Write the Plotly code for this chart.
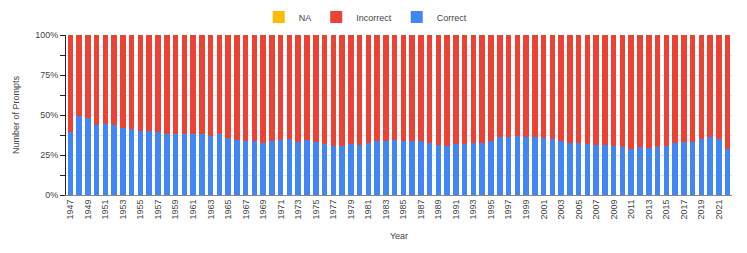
import plotly.graph_objects as go

years = [str(y) for y in range(1947, 2023)]
correct = [
    39.4, 49.2, 48.3, 43.8, 44.6, 43.5, 42.1, 41.3, 40.0, 40.0,
    39.6, 38.3, 38.3, 38.3, 38.3, 38.1, 36.7, 38.1, 35.4, 34.4,
    33.5, 33.7, 32.7, 33.7, 34.4, 35.0, 33.3, 34.4, 33.3, 31.9,
    30.8, 30.8, 31.7, 31.3, 32.3, 33.7, 33.7, 34.4, 33.7, 33.7,
    33.7, 32.3, 31.3, 30.8, 32.1, 31.7, 32.5, 32.5, 33.7, 36.3,
    36.0, 36.9, 36.0, 36.0, 35.6, 35.2, 33.7, 32.3, 32.7, 32.1,
    31.5, 31.0, 30.6, 29.8, 29.0, 29.8, 29.4, 30.2, 30.8, 32.3,
    33.3, 33.3, 34.8, 36.3, 35.0, 28.5,
]
incorrect = [round(100 - c, 1) for c in correct]
na = [0.0 for _ in correct]
tick_years = years[::2]
y_ticks = [0, 25, 50, 75, 100]
y_labels = ["0%", "25%", "50%", "75%", "100%"]

font = "Liberation Sans, Arial, sans-serif"

fig = go.Figure()
fig.add_trace(go.Bar(x=years, y=correct, name="Correct", marker_color="#4285F4",
                     marker_line_width=0))
fig.add_trace(go.Bar(x=years, y=incorrect, name="Incorrect", marker_color="#EA4335",
                     marker_line_width=0))
fig.add_trace(go.Bar(x=years, y=na, name="NA", marker_color="#FBBC04",
                     marker_line_width=0))

fig.update_layout(
    width=739, height=245,
    barmode="stack",
    bargap=0.37,
    paper_bgcolor="white", plot_bgcolor="white",
    margin=dict(l=58, r=15, t=27, b=58, autoexpand=False),
    font=dict(family=font, size=9, color="#444"),
    legend=dict(orientation="h", x=0.45, xanchor="center", y=1.1125, yanchor="middle",
                traceorder="reversed", font=dict(size=9, color="#444"),
                itemwidth=30),
    showlegend=True,
)
fig.update_xaxes(
    type="category",
    tickmode="array", tickvals=tick_years, ticktext=tick_years,
    tickangle=-90,
    automargin=False,
    title=dict(text="Year", font=dict(size=9, color="#444"), standoff=14),
    showline=True, linecolor="#888", linewidth=1,
    ticks="", showgrid=False,
    tickfont=dict(size=9, color="#444"),
)
fig.update_yaxes(
    range=[0, 100],
    tickmode="array", tickvals=y_ticks, ticktext=y_labels,
    automargin=False,
    title=dict(text="Number of Prompts", font=dict(size=9, color="#444"), standoff=14),
    showline=True, linecolor="#222", linewidth=1,
    ticks="outside", ticklen=5, tickcolor="#222",
    showgrid=True, gridcolor="#e6e6e6",
    minor=dict(dtick=12.5, tick0=0, ticks="outside", ticklen=5, tickcolor="#222",
               showgrid=True, gridcolor="#e6e6e6"),
    zeroline=False,
    tickfont=dict(size=9, color="#444"),
)

fig.write_html("out.html")
